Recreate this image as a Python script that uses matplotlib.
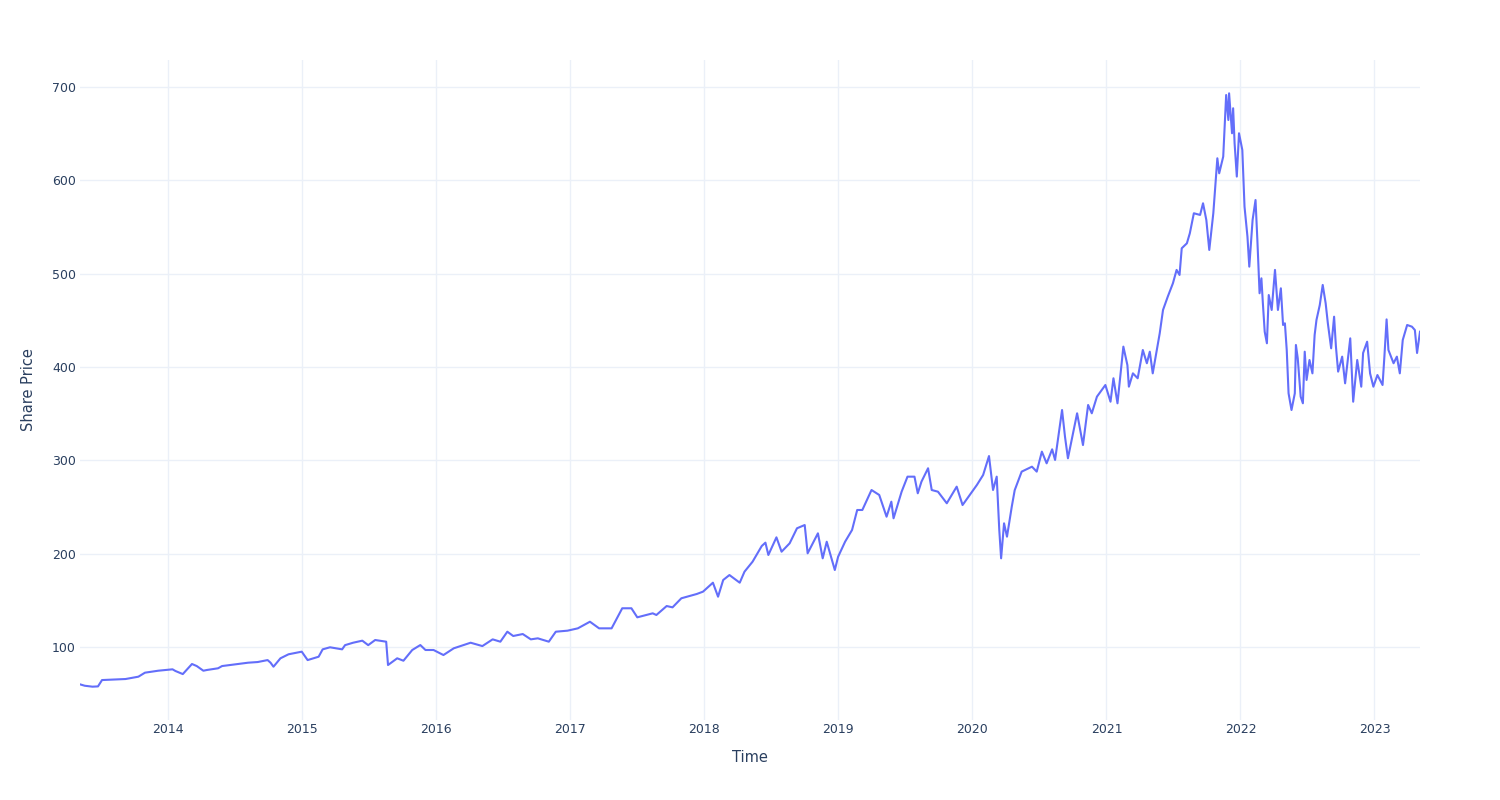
import matplotlib
matplotlib.use("Agg")
import matplotlib.pyplot as plt
import pandas as pd

dates = [
    "2013-05-07", "2013-05-20", "2013-06-10", "2013-06-25", "2013-07-06", "2013-09-08", "2013-10-13",
    "2013-10-31", "2013-12-06",
    "2014-01-14", "2014-01-22", "2014-02-11", "2014-03-08", "2014-03-21", "2014-04-08", "2014-04-18",
    "2014-05-18", "2014-05-29", "2014-07-03", "2014-08-08", "2014-09-03", "2014-09-30", "2014-10-08",
    "2014-10-16", "2014-11-04", "2014-11-26", "2014-12-22",
    "2015-01-01", "2015-01-17", "2015-02-16", "2015-02-27", "2015-03-19", "2015-04-21", "2015-04-29",
    "2015-05-21", "2015-06-15", "2015-07-01", "2015-07-20", "2015-08-19", "2015-08-24", "2015-09-18",
    "2015-10-05", "2015-10-29", "2015-11-20", "2015-12-04", "2015-12-26",
    "2016-01-22", "2016-02-19", "2016-04-05", "2016-05-07", "2016-06-04", "2016-06-25", "2016-07-14",
    "2016-07-30", "2016-08-25", "2016-09-16", "2016-10-05", "2016-11-04", "2016-11-23", "2016-12-25",
    "2017-01-22", "2017-02-24", "2017-03-21", "2017-04-24", "2017-05-23", "2017-06-17", "2017-07-03",
    "2017-08-14", "2017-08-24", "2017-09-21", "2017-10-07", "2017-10-31", "2017-12-12", "2017-12-29",
    "2018-01-25", "2018-02-08", "2018-02-22", "2018-03-11", "2018-04-08", "2018-04-21", "2018-05-13",
    "2018-06-07", "2018-06-17", "2018-06-25", "2018-07-17", "2018-07-31", "2018-08-22", "2018-09-11",
    "2018-10-02", "2018-10-10", "2018-11-07", "2018-11-20", "2018-12-01", "2018-12-23",
    "2019-01-01", "2019-01-20", "2019-02-08", "2019-02-22", "2019-03-08", "2019-04-02", "2019-04-23",
    "2019-05-13", "2019-05-26", "2019-06-01", "2019-06-23", "2019-07-09", "2019-07-28", "2019-08-06",
    "2019-08-16", "2019-09-03", "2019-09-13", "2019-09-30", "2019-10-24", "2019-11-20", "2019-12-06",
    "2020-01-01", "2020-01-14", "2020-01-31", "2020-02-16", "2020-02-27", "2020-03-08", "2020-03-15",
    "2020-03-20", "2020-03-28", "2020-04-05", "2020-04-18", "2020-04-26", "2020-05-10", "2020-05-15",
    "2020-06-12", "2020-06-25", "2020-07-09", "2020-07-22", "2020-08-06", "2020-08-14", "2020-09-02",
    "2020-09-10", "2020-09-18", "2020-10-02", "2020-10-13", "2020-10-29", "2020-11-12", "2020-11-22",
    "2020-12-06", "2020-12-29",
    "2021-01-12", "2021-01-20", "2021-01-31", "2021-02-16", "2021-02-27", "2021-03-03", "2021-03-14",
    "2021-03-27", "2021-04-10", "2021-04-21", "2021-04-29", "2021-05-07", "2021-05-18", "2021-05-26",
    "2021-06-04", "2021-06-17", "2021-07-01", "2021-07-11", "2021-07-19", "2021-07-25", "2021-08-08",
    "2021-08-16", "2021-08-27", "2021-09-13", "2021-09-21", "2021-09-30", "2021-10-08", "2021-10-19",
    "2021-10-30", "2021-11-04", "2021-11-15", "2021-11-23", "2021-11-29", "2021-12-01", "2021-12-09",
    "2021-12-12", "2021-12-16", "2021-12-22", "2021-12-28",
    "2022-01-06", "2022-01-12", "2022-01-20", "2022-01-25", "2022-02-03", "2022-02-11", "2022-02-16",
    "2022-02-22", "2022-02-27", "2022-03-03", "2022-03-08", "2022-03-14", "2022-03-19", "2022-03-27",
    "2022-04-05", "2022-04-13", "2022-04-21", "2022-04-27", "2022-05-02", "2022-05-07", "2022-05-12",
    "2022-05-20", "2022-05-29", "2022-06-01", "2022-06-06", "2022-06-14", "2022-06-20", "2022-06-25",
    "2022-06-30", "2022-07-08", "2022-07-16", "2022-07-22", "2022-07-27", "2022-08-05", "2022-08-13",
    "2022-08-21", "2022-08-27", "2022-09-05", "2022-09-13", "2022-09-18", "2022-09-24", "2022-10-05",
    "2022-10-13", "2022-10-27", "2022-11-04", "2022-11-15", "2022-11-26", "2022-12-01", "2022-12-12",
    "2022-12-20", "2022-12-29",
    "2023-01-09", "2023-01-23", "2023-01-28", "2023-02-03", "2023-02-08", "2023-02-22", "2023-03-03",
    "2023-03-11", "2023-03-19", "2023-03-31", "2023-04-13", "2023-04-21", "2023-04-27", "2023-05-05",
]

prices = [
    60.0, 58.5, 57.5, 57.8, 64.6, 65.7, 68.2,
    72.5, 74.6,
    76.1, 74.3, 71.0, 81.8, 79.6, 74.6, 75.4,
    77.2, 79.6, 81.4, 83.2, 83.9, 86.0, 83.2,
    78.9, 87.9, 92.2, 94.3,
    95.0, 86.0, 89.6, 97.5, 99.7, 97.5, 102.0,
    104.6, 106.8, 102.0, 107.5, 105.7, 80.7, 87.9,
    85.3, 96.8, 102.1, 96.8, 96.8,
    91.4, 98.6, 104.6, 101.0, 108.2, 105.7, 116.4,
    111.8, 113.9, 108.2, 109.3, 105.7, 116.4, 117.5,
    120.0, 127.1, 120.0, 120.0, 141.5, 141.5, 131.8,
    136.1, 134.3, 143.9, 142.5, 152.2, 156.8, 159.3,
    168.9, 153.9, 171.8, 177.1, 168.9, 180.7, 191.4,
    208.2, 211.8, 198.6, 217.5, 202.1, 211.1, 227.2,
    230.7, 200.4, 221.8, 195.0, 212.8, 182.5,
    196.7, 212.8, 225.4, 246.8, 246.8, 268.2, 262.9,
    239.6, 255.7, 237.9, 266.4, 282.5, 282.5, 264.7,
    277.1, 291.5, 268.2, 266.4, 254.0, 271.8, 252.1,
    266.4, 273.6, 284.3, 304.6, 268.2, 282.5, 225.4,
    195.0, 232.5, 218.2, 250.3, 268.0, 282.5, 287.9,
    293.2, 287.9, 309.3, 296.8, 311.8, 300.4, 353.9,
    325.3, 302.2, 329.0, 350.4, 316.4, 359.3, 350.4,
    368.2, 380.7,
    362.8, 387.9, 361.1, 421.8, 402.0, 378.9, 393.2,
    387.9, 418.2, 404.0, 416.4, 393.2, 418.2, 436.0,
    461.1, 475.4, 489.7, 504.0, 498.6, 527.2, 532.5,
    543.2, 564.7, 562.9, 575.4, 557.5, 525.4, 564.7,
    623.6, 607.5, 625.4, 691.4, 664.6, 693.2, 650.4,
    677.2, 639.6, 604.0, 650.4,
    632.5, 571.8, 539.7, 507.5, 557.5, 578.9, 536.1,
    479.0, 495.0, 468.3, 437.8, 425.4, 477.1, 461.1,
    504.0, 461.1, 484.3, 445.0, 446.8, 418.2, 371.8,
    353.9, 371.8, 423.6, 409.3, 368.2, 361.1, 416.4,
    386.1, 407.5, 393.2, 434.3, 450.4, 466.4, 487.9,
    468.3, 446.8, 420.0, 453.9, 421.8, 395.0, 411.1,
    382.5, 430.7, 362.8, 407.5, 378.9, 415.0, 427.1,
    393.2, 378.9,
    391.4, 380.7, 411.1, 451.0, 418.2, 404.0, 411.1,
    393.2, 428.9, 445.0, 443.2, 439.6, 415.0, 437.8,
]

year_ticks = ["2014", "2015", "2016", "2017", "2018", "2019", "2020", "2021", "2022", "2023"]
price_ticks = [100, 200, 300, 400, 500, 600, 700]

x = pd.to_datetime(dates)

TXT = "#2a3f5f"
GRID = "#EBF0F8"

fig = plt.figure(figsize=(15, 8), dpi=100)
ax = fig.add_axes([80 / 1500, 80 / 800, 1340 / 1500, 660 / 800])
ax.plot(x, prices, color="#636efa", linewidth=1.5, solid_joinstyle="round")

ax.set_xlim(x[0], x[-1])
ax.set_ylim(21.8, 728.9)
ax.set_yticks(price_ticks)
ax.set_yticklabels([str(v) for v in price_ticks])
ax.set_xticks(pd.to_datetime([y + "-01-01" for y in year_ticks]))
ax.set_xticklabels(year_ticks)

for s in ax.spines.values():
    s.set_visible(False)
ax.grid(True, color=GRID, linewidth=1)
ax.set_axisbelow(True)
ax.tick_params(axis="both", length=0, colors=TXT, labelsize=9)
ax.tick_params(axis="x", pad=2.5)
ax.tick_params(axis="y", pad=3)

ax.set_xlabel("Time", fontsize=10.5, color=TXT, labelpad=9.5)
ax.set_ylabel("Share Price", fontsize=10.5, color=TXT, labelpad=11.5)

fig.savefig("out.png", dpi=100, facecolor="white")
